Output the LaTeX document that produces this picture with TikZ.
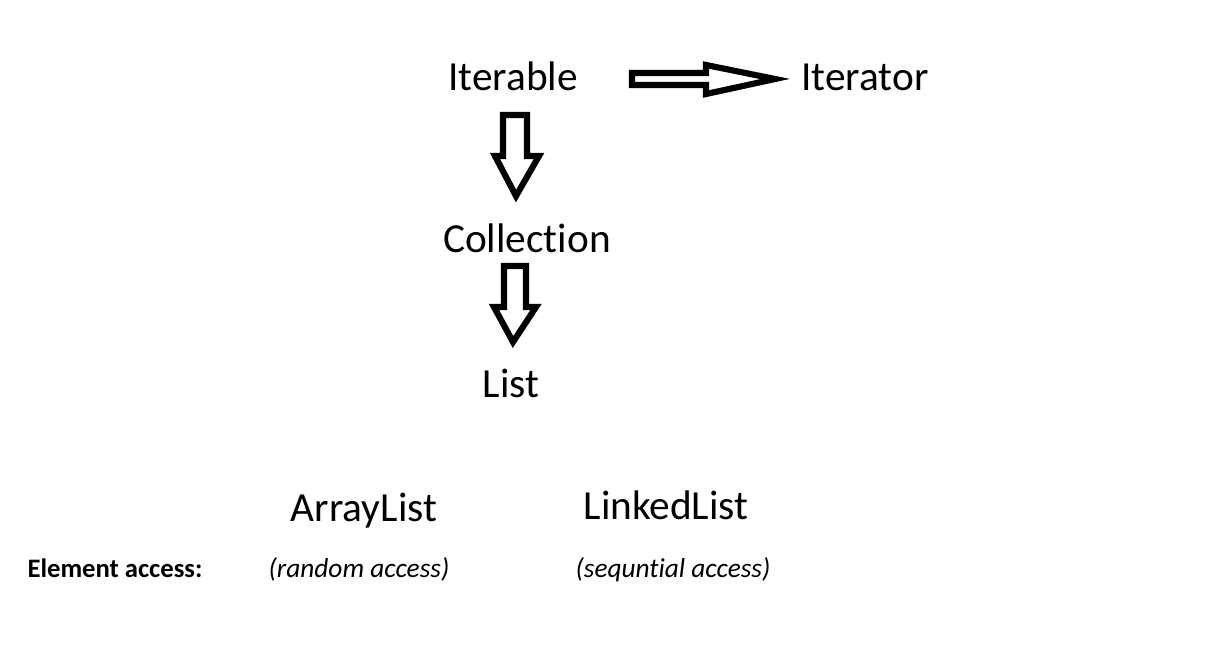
\documentclass[tikz,border=0pt]{standalone}
\usepackage{fontspec}
\setmainfont{Carlito}[Ligatures={NoCommon}]
\begin{document}
\begin{tikzpicture}[x=0.75pt,y=-0.75pt,
  big/.style={font=\fontsize{31}{37}\selectfont,inner sep=0pt,anchor=base},
  small/.style={inner sep=0pt,anchor=base},
  blockarrow/.style={draw=black,line width=4.6pt,line join=miter,fill=white}]
\useasboundingbox[fill=white] (0,0) rectangle (1205,647);
\node[big] (iterable) at (513,90) {Iterable};
\node[big] (iterator) at (865,90) {Iterator};
\node[big] (collection) at (527,252) {Collection};
\node[big] (list) at (511,397) {List};
\node[big] (arraylist) at (364,521) {ArrayList};
\node[big] (linkedlist) at (666,519) {LinkedList};
\node[small,font=\fontsize{20}{24}\selectfont\bfseries] (access) at (115,577) {Element access:};
\node[small,font=\fontsize{20.5}{24}\selectfont\itshape] (random) at (359,577) {(random access)};
\node[small,font=\fontsize{20.5}{24}\selectfont\itshape] (seq) at (673,577) {(sequntial access)};
% right block arrow
\draw[blockarrow] (632,73) -- (706,73) -- (706,65) -- (775,79) -- (706,94) -- (706,85) -- (632,85) -- cycle;
% down block arrow 1
\draw[blockarrow] (503,115) -- (527,115) -- (527,156) -- (539,156) -- (516,196) -- (495,156) -- (503,156) -- cycle;
% down block arrow 2
\draw[blockarrow] (504,266) -- (526,266) -- (526,307) -- (536,307) -- (513,342) -- (494,307) -- (504,307) -- cycle;
\end{tikzpicture}
\end{document}
